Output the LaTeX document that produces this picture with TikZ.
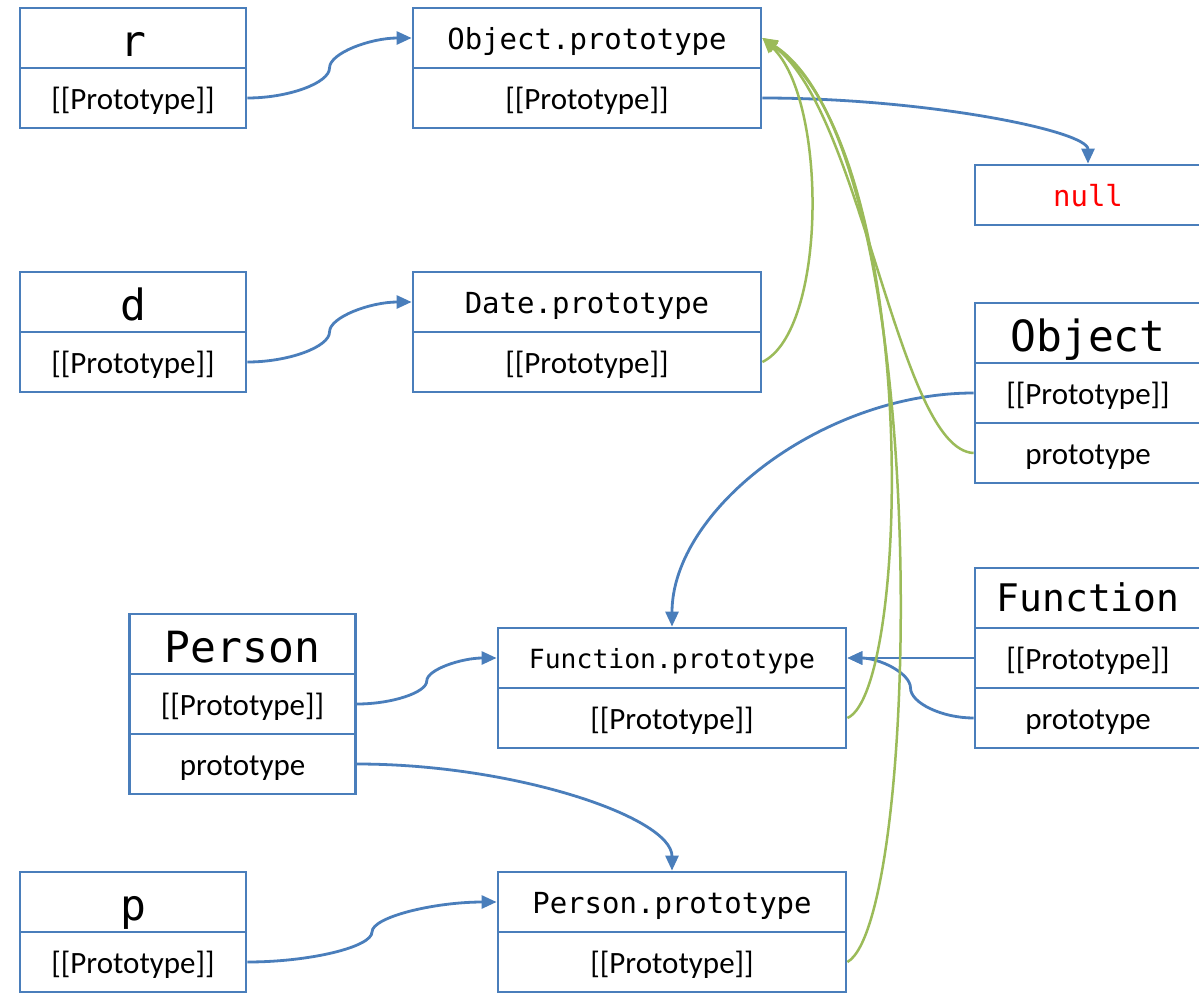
\documentclass[tikz,border=0pt]{standalone}
\usepackage{fontspec}
\setmainfont{Carlito}
\newfontfamily\monofam{DejaVu Sans Mono}
\usetikzlibrary{calc,arrows.meta}
\definecolor{boxblue}{HTML}{4A7EBB}
\definecolor{linkgreen}{HTML}{9BBB59}
\definecolor{nullred}{HTML}{FF0000}
\begin{document}
\begin{tikzpicture}[x=1pt,y=-1pt,
  cellbox/.style={draw=boxblue, line width=2.8pt, minimum height=60pt, inner sep=0pt},
  narrow/.style={cellbox, minimum width=226pt},
  wide/.style={cellbox, minimum width=348pt},
  lbl/.style={font=\fontsize{31}{36}\selectfont, text height=26pt, text depth=4pt},
  bigttl/.style={font=\monofam\fontsize{43}{50}\selectfont, text height=40pt, text depth=4pt},
  midttl/.style={font=\monofam\fontsize{29}{34}\selectfont, text height=26pt, text depth=3.4pt},
  bluelink/.style={draw=boxblue, line width=2.8pt, -{Triangle[length=15pt,width=13pt]}},
  greenlink/.style={draw=linkgreen, line width=2.5pt, -{Triangle[length=15pt,width=13pt]}},
  scurve/.style={to path={let \p1=(\tikztostart), \p2=(\tikztotarget),
    \p3=($(\p1)!.5!(\p2)$), \p4=($(\p1)!.25!(\p2)$), \p5=($(\p1)!.75!(\p2)$) in
    .. controls (\x4,\y1) and (\x3,\y4) .. (\p3)
    .. controls (\x3,\y5) and (\x5,\y2) .. (\p2) \tikztonodes}},
  lcurve/.style={to path={let \p1=(\tikztostart), \p2=(\tikztotarget),
    \p3=($(\p1)!.5!(\p2)$) in
    .. controls (\x3,\y1) and (\x2,\y3) .. (\p2) \tikztonodes}}
]
\useasboundingbox (0,0) rectangle (1199,993);
\fill[white] (0,0) rectangle (1199,993);

% r
\node[narrow, bigttl] (r) at (133,38) {r};
\node[narrow, lbl] (rP) at (133,98) {[[Prototype]]};
% Object.prototype
\node[wide, midttl] (op) at (587,38) {Object.prototype};
\node[wide, lbl] (opP) at (587,98) {[[Prototype]]};
% null
\node[narrow, midttl, text=nullred] (nul) at (1088,195) {null};
% d
\node[narrow, bigttl] (d) at (133,302) {d};
\node[narrow, lbl] (dP) at (133,362) {[[Prototype]]};
% Date.prototype
\node[wide, midttl] (dp) at (587,302) {Date.prototype};
\node[wide, lbl] (dpP) at (587,362) {[[Prototype]]};
% Object
\node[narrow, bigttl] (O) at (1088,333) {Object};
\node[narrow, lbl] (OP) at (1088,393) {[[Prototype]]};
\node[narrow, lbl] (Op) at (1088,453) {prototype};
% Function
\node[narrow, font=\monofam\fontsize{38}{44}\selectfont, text height=31pt, text depth=3.6pt] (F) at (1088,598) {Function};
\node[narrow, lbl] (FP) at (1088,658) {[[Prototype]]};
\node[narrow, lbl] (Fp) at (1088,718) {prototype};
% Person
\node[narrow, bigttl] (Pe) at (242.5,644) {Person};
\node[narrow, lbl] (PeP) at (242.5,704) {[[Prototype]]};
\node[narrow, lbl] (Pep) at (242.5,764) {prototype};
% Function.prototype
\node[wide, font=\monofam\fontsize{26.4}{32}\selectfont, text height=24pt, text depth=3.4pt] (fp) at (672,658) {Function.prototype};
\node[wide, lbl] (fpP) at (672,718) {[[Prototype]]};
% p
\node[narrow, bigttl] (p) at (133,902) {p};
\node[narrow, lbl] (pP) at (133,962) {[[Prototype]]};
% Person.prototype
\node[wide, midttl] (pp) at (672,902) {Person.prototype};
\node[wide, lbl] (ppP) at (672,962) {[[Prototype]]};

% blue links
\draw[bluelink] (rP.east) to[scurve] (op.west);
\draw[bluelink] (dP.east) to[scurve] (dp.west);
\draw[bluelink] (PeP.east) to[scurve] (fp.west);
\draw[bluelink] (pP.east) to[scurve] (pp.west);
\draw[bluelink] (opP.east) to[lcurve] (nul.north);
\draw[bluelink] (OP.west) to[lcurve] (fp.north);
\draw[bluelink] (Pep.east) to[lcurve] (pp.north);
\draw[bluelink] (FP.west) -- (fp.east);
\draw[bluelink] (Fp.west) to[scurve] (fp.east);

% green links
\draw[greenlink] (dpP.east) .. controls +(65,-32) and +(65,62) .. (op.east);
\draw[greenlink] (Op.west) .. controls +(-75,-3) and +(99,72) .. (op.east);
\draw[greenlink] (fpP.east) .. controls +(64,-28) and +(159,112) .. (op.east);
\draw[greenlink] (ppP.east) .. controls +(74,-42) and +(174,112) .. (op.east);
\end{tikzpicture}
\end{document}
